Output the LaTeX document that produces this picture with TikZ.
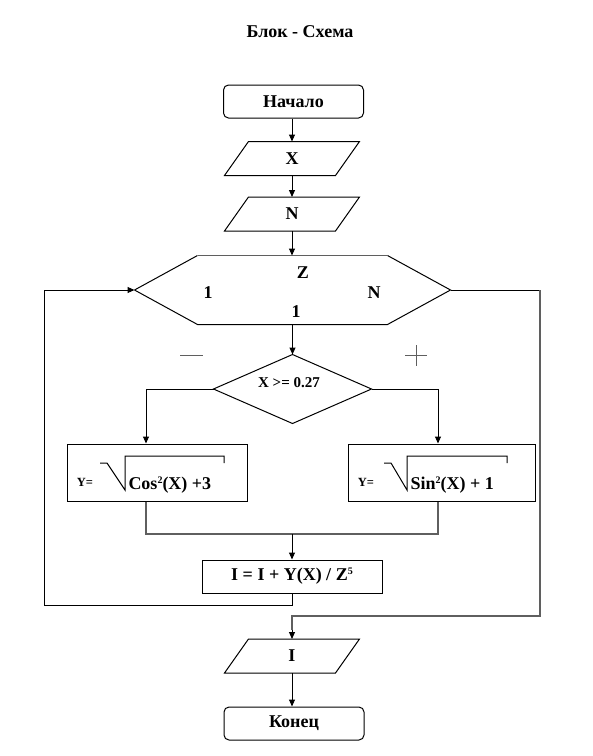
\documentclass[tikz,border=0pt]{standalone}
\usepackage{fontspec}
\setmainfont{Liberation Serif}
\usetikzlibrary{arrows.meta}
\definecolor{lg}{RGB}{95,95,95}
\newcommand{\supsm}[1]{\raisebox{6pt}{\fontsize{10}{10}\selectfont #1}}
\begin{document}
\begin{tikzpicture}[x=1pt,y=-1pt,line width=1pt,
  txt/.style={font=\fontsize{18}{20}\selectfont\bfseries, inner sep=0pt},
  small/.style={font=\fontsize{12.5}{14}\selectfont\bfseries, inner sep=0pt},
  mid/.style={font=\fontsize{15}{17}\selectfont\bfseries, inner sep=0pt},
  term/.style={txt, draw, rounded corners=5pt, minimum width=140pt, minimum height=33pt},
  rectbox/.style={txt, draw, minimum height=#1},
  iobox/.style={txt, minimum width=110pt, minimum height=33pt},
  arr/.style={-{Triangle[length=7pt,width=6pt]}},
]
\useasboundingbox (0,0) rectangle (593,756);

\node[txt] (title) at (300,32) {Блок - Схема};

% terminal start
\node[term] (start) at (293.5,101.5) {Начало};

% input X
\node[iobox] (x) at (292,158.5) {X};
\draw ([xshift=-12pt]x.south west) -- ([xshift=-12pt]x.south east) -- ([xshift=12pt]x.north east) -- ([xshift=12pt]x.north west) -- cycle;

% input N
\node[iobox] (n) at (292,214) {N};
\draw ([xshift=-12pt]n.south west) -- ([xshift=-12pt]n.south east) -- ([xshift=12pt]n.north east) -- ([xshift=12pt]n.north west) -- cycle;

% loop hexagon
\node[inner sep=0pt, minimum width=315pt, minimum height=68pt] (hex) at (292.5,290) {};
\draw (hex.west) -- ([xshift=63pt]hex.south west) -- ([xshift=-63pt]hex.south east) -- (hex.east) -- ([xshift=-63pt]hex.north east);
\draw[draw=lg, line width=1.3pt] ([xshift=-63pt]hex.north east) -- ([xshift=63pt]hex.north west);
\draw ([xshift=63pt]hex.north west) -- (hex.west);
\node[txt] (hz) at (303,273) {Z};
\node[txt] (h1) at (208,293) {1};
\node[txt] (hn) at (374,293) {N};
\node[txt] (hs) at (296,312) {1};

% decision
\node[inner sep=0pt, minimum width=157pt, minimum height=68pt] (cond) at (292.5,389) {};
\draw (cond.north) -- (cond.east) -- (cond.south) -- (cond.west) -- cycle;
\node[mid] (condt) at (289,383) {X >= 0.27};

% minus and plus
\draw[lg, line width=0.8pt] (180,355) -- (203,355);
\draw[lg, line width=0.8pt] (405,355) -- (427,355) (416,345) -- (416,366);

% left box
\node[draw, inner sep=0pt, minimum width=180pt, minimum height=57pt] (lbox) at (157,472.5) {};
\node[small] (ly) at (85,482) {Y=};
\node[txt, anchor=base west] (lt) at (128,489) {Cos\supsm{2}(X) +3};
\draw (100,463) -- (107,463) -- (125,490) -- (125,456) -- (224,456) -- (224,463);

% right box
\node[draw, inner sep=0pt, minimum width=187pt, minimum height=57pt] (rbox) at (441.5,472.5) {};
\node[small] (ry) at (366,482) {Y=};
\node[txt, anchor=base west] (rt) at (410,489) {Sin\supsm{2}(X) + 1};
\draw (384,463) -- (391,463) -- (407,490) -- (407,456) -- (507,456) -- (507,463);

% update box
\node[rectbox=33pt, minimum width=180pt] (upd) at (292,576.5) {I = I + Y(X) / Z\supsm{5}};

% output I
\node[iobox] (out) at (292,656) {I};
\draw ([xshift=-12pt]out.south west) -- ([xshift=-12pt]out.south east) -- ([xshift=12pt]out.north east) -- ([xshift=12pt]out.north west) -- cycle;

% end
\node[term] (end) at (294,723.5) {Конец};

% coordinates
\coordinate (merge) at (292,534);
\coordinate (loopL) at (44,605);
\coordinate (loopR) at (540,616);
\coordinate (outin) at (292,630);

% connectors
\draw[arr] (start.south -| x.north) -- (x.north);
\draw[arr] (x.south) -- (n.north);
\draw[arr] (n.south) -- (n.south |- hex.north);
\draw[arr] (hex.south) -- (cond.north);
\draw[arr] (cond.west) -| ([xshift=-11pt]lbox.north);
\draw[arr] (cond.east) -| ([xshift=-3.5pt]rbox.north);
\draw[lg, line width=1.2pt] ([xshift=-11pt]lbox.south) |- (merge) -| ([xshift=-3.5pt]rbox.south);
\draw[arr] (merge) -- (upd.north);
\draw[arr] (upd.south) |- (loopL) |- (hex.west);
\draw (hex.east) -- (hex.east -| loopR);
\draw[lg, line width=1.2pt] (hex.east -| loopR) -- (loopR) -| (outin);
\draw[arr] (outin) -- (out.north);
\draw[arr] (out.south) -- (out.south |- end.north);
\end{tikzpicture}
\end{document}
